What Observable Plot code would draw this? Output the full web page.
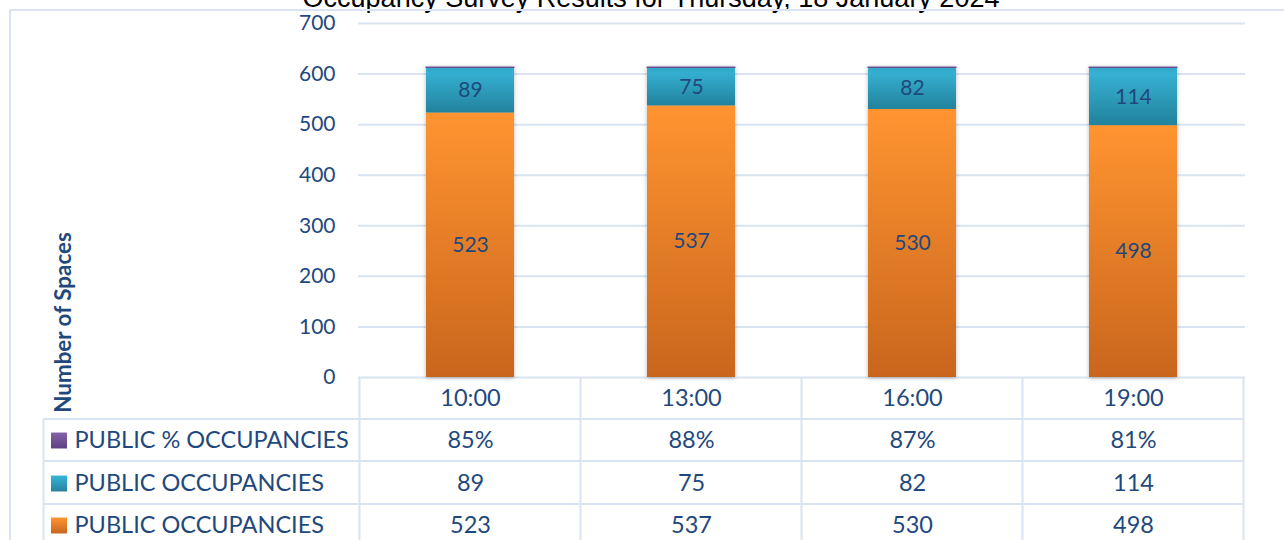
<!DOCTYPE html>
<html><head><meta charset="utf-8">
<script src="https://cdn.jsdelivr.net/npm/d3@7"></script>
<script src="https://cdn.jsdelivr.net/npm/@observablehq/plot@0.6"></script>
<style>
body{margin:0;background:#fff;overflow:hidden}
#wrap{position:relative;width:1284px;height:540px;overflow:hidden;background:#fff}
#wrap svg{position:absolute;left:0;top:0}
#frame{position:absolute;left:9px;top:9px;width:2000px;height:1000px;border-left:2px solid #D9E3F1;border-top:2px solid #D9E3F1;pointer-events:none}
g[aria-label="bar"]{filter:drop-shadow(0px 1px 2px rgba(0,0,0,0.28))}
</style></head><body><div id="wrap"></div>
<script>
const title = "Occupancy Survey Results for Thursday, 18 January 2024";
const categories = ["10:00", "13:00", "16:00", "19:00"];
const orangeValues = [523, 537, 530, 498];
const tealValues = [89, 75, 82, 114];
const pctValues = [0.85, 0.88, 0.87, 0.81];
const seriesNames = ["PUBLIC % OCCUPANCIES", "PUBLIC OCCUPANCIES", "PUBLIC OCCUPANCIES"];
const yTicks = [0, 100, 200, 300, 400, 500, 600, 700];
const yLabel = "Number of Spaces";

const rows = categories.map((c, i) => ({cat: c, orange: orangeValues[i], teal: tealValues[i], pct: pctValues[i]}));
const stacked = [];
rows.forEach(r => {
  stacked.push({cat: r.cat, series: "orange", value: r.orange});
  stacked.push({cat: r.cat, series: "teal", value: r.teal});
});

const textColor = "#1F497D";
const gridColor = "#D9E3F1";
const font = "Lato, 'Noto Sans', sans-serif";
const fs = 21;      // ticks and bar labels
const tfs = 23.5;   // table text
const labelColWidth = 316;
const rowOffsets = [21, 63, 106, 148];   // text centers below the axis
const lineOffsets = [42, 84, 127];         // table row separators below the axis

function gradient(defs, id, top, bottom) {
  const g = defs.append("linearGradient").attr("id", id).attr("x1", 0).attr("y1", 0).attr("x2", 0).attr("y2", 1);
  g.append("stop").attr("offset", "0%").attr("stop-color", top);
  g.append("stop").attr("offset", "100%").attr("stop-color", bottom);
}

function tableGrid(index, scales, values, dims) {
  const x = scales.x, y = scales.y;
  const g = d3.create("svg:g");
  const defs = g.append("defs");
  gradient(defs, "gOrange", "#FF9430", "#C9661D");
  gradient(defs, "gTeal", "#38B6DA", "#22829C");
  gradient(defs, "gPurple", "#8364A8", "#5D4182");
  const y0 = y(0);
  const bw = x.bandwidth ? x.bandwidth() : 0;
  const step = x(categories[1]) - x(categories[0]);
  const centers = categories.map(c => x(c) + bw / 2);
  const bounds = centers.map(c => c - step / 2).concat([centers[centers.length - 1] + step / 2]);
  const left = bounds[0] - labelColWidth;
  const right = bounds[bounds.length - 1];
  const bottom = dims.height + 20;
  const lines = g.append("g").attr("stroke", gridColor).attr("stroke-width", 2).attr("fill", "none");
  lineOffsets.forEach(o => lines.append("line").attr("x1", left).attr("x2", right).attr("y1", y0 + o).attr("y2", y0 + o));
  bounds.forEach(b => lines.append("line").attr("x1", b).attr("x2", b).attr("y1", y0).attr("y2", bottom));
  lines.append("line").attr("x1", left).attr("x2", left).attr("y1", y0 + lineOffsets[0]).attr("y2", bottom);
  return g.node();
}

const fills = {orange: "url(#gOrange)", teal: "url(#gTeal)", purple: "url(#gPurple)"};
const rowFills = [fills.purple, fills.teal, fills.orange];
const rowKeys = ["pct", "teal", "orange"];
const pctFmt = d3.format(".0%");

const marks = [
  tableGrid,
  Plot.ruleY(yTicks, {stroke: gridColor, strokeWidth: 2}),
  Plot.barY(stacked, Plot.stackY({x: "cat", y: "value", fill: d => fills[d.series]})),
  Plot.barY(rows, {x: "cat", y1: d => d.orange + d.teal, y2: d => d.orange + d.teal + d.pct, fill: fills.purple, stroke: "#6A4C93", strokeWidth: 1}),
  Plot.text(stacked, Plot.stackY({x: "cat", y: "value", text: d => String(d.value), fill: textColor, fontSize: fs, fontFamily: font})),
  Plot.axisY({ticks: yTicks, tickSize: 0, tickPadding: 23, fontSize: fs, fontFamily: font, fill: textColor, label: null}),
  Plot.text([yLabel], {frameAnchor: "left", dx: -295, dy: 122, rotate: -90, text: d => d, fill: textColor, fontSize: 22.4, fontWeight: "bold", fontFamily: font, textAnchor: "middle", lineAnchor: "middle"}),
  Plot.text([title], {frameAnchor: "top", dx: -151, dy: -17, lineAnchor: "bottom", text: d => d, fill: "#000", fontSize: 27, fontFamily: "'Liberation Sans', Arial, sans-serif"}),
  Plot.text(rows, {x: "cat", frameAnchor: "bottom", lineAnchor: "middle", dy: rowOffsets[0], text: "cat", fill: textColor, fontSize: tfs, fontFamily: font})
];
rowKeys.forEach((k, i) => {
  marks.push(Plot.text(rows, {x: "cat", frameAnchor: "bottom", lineAnchor: "middle", dy: rowOffsets[i + 1], text: d => k === "pct" ? pctFmt(d[k]) : String(d[k]), fill: textColor, fontSize: tfs, fontFamily: font}));
  marks.push(Plot.text([seriesNames[i]], {frameAnchor: "bottom-left", lineAnchor: "middle", dx: -284, dy: rowOffsets[i + 1], text: d => d, textAnchor: "start", fill: textColor, fontSize: tfs, fontFamily: font}));
  marks.push(Plot.dot([seriesNames[i]], {frameAnchor: "bottom-left", dx: -299.5, dy: rowOffsets[i + 1], symbol: "square", r: 9, fill: rowFills[i], stroke: "none"}));
});

const chart = Plot.plot({
  width: 1284,
  height: 540,
  marginLeft: 358,
  marginRight: 39,
  marginTop: 23,
  marginBottom: 163,
  style: {background: "transparent", color: textColor, fontFamily: font, overflow: "hidden"},
  x: {type: "band", domain: categories, paddingInner: 0.6, paddingOuter: 0.3, axis: null},
  y: {domain: [0, 700], axis: null},
  marks
});
const wrap = document.getElementById("wrap");
wrap.appendChild(chart);
const fr = document.createElement("div");
fr.id = "frame";
wrap.appendChild(fr);
</script>
</body></html>
